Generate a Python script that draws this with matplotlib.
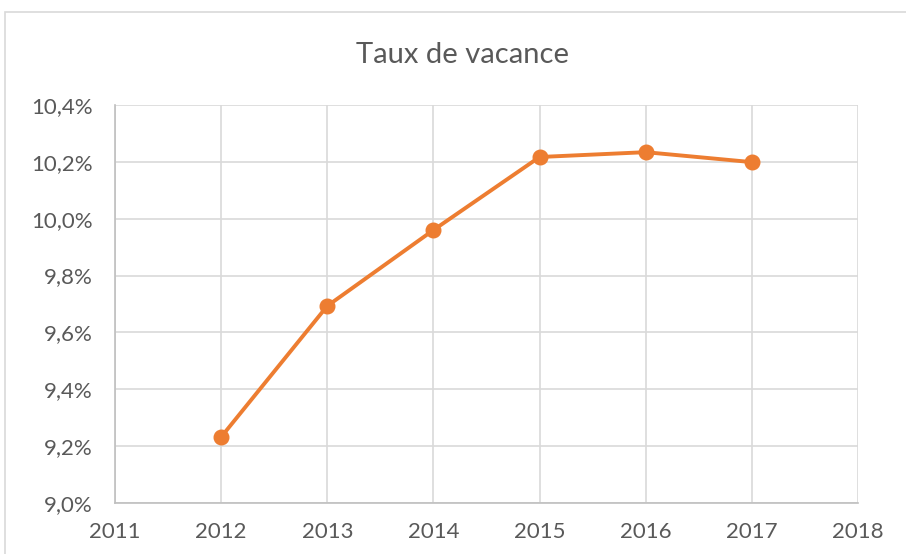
import numpy as np
import matplotlib
matplotlib.use("Agg")
import matplotlib.pyplot as plt
from matplotlib.patches import Rectangle
from matplotlib.ticker import FuncFormatter

years = [2012, 2013, 2014, 2015, 2016, 2017]
taux = [9.232, 9.693, 9.960, 10.217, 10.234, 10.199]

plt.rcParams['font.family'] = ['Lato', 'DejaVu Sans']

fig = plt.figure(figsize=(9.06, 5.54), dpi=100)
ax = fig.add_axes([0.1269, 0.0921, 0.8201, 0.7184])

# outer chart frame
fig.patches.append(Rectangle((5 / 906, -0.1), 1.2, (554 - 12) / 554 + 0.1,
                             transform=fig.transFigure, fill=False,
                             edgecolor='#d9d9d9', linewidth=1.2))

ax.plot(years, taux, color='#ed7d31', linewidth=2.8, marker='o',
        markersize=10.5, zorder=3)

ax.set_xlim(2011, 2018)
ax.set_ylim(9.0, 10.4)
ax.set_xticks(range(2011, 2019))
ax.set_yticks(np.arange(9.0, 10.41, 0.2))
ax.yaxis.set_major_formatter(FuncFormatter(lambda v, p: ('%.1f%%' % v).replace('.', ',')))

ax.grid(True, color='#d9d9d9', linewidth=1.2)
ax.set_axisbelow(True)
for s in ['top', 'right']:
    ax.spines[s].set_visible(False)
for s in ['left', 'bottom']:
    ax.spines[s].set_color('#bfbfbf')
    ax.spines[s].set_linewidth(1.2)
ax.tick_params(length=0, labelsize=16, colors='#595959')
ax.tick_params(axis='x', pad=14)
ax.tick_params(axis='y', pad=16)

fig.text(0.511, 0.9, 'Taux de vacance', ha='center', va='center',
         fontsize=21, color='#595959')

fig.savefig('out.png', dpi=100)
